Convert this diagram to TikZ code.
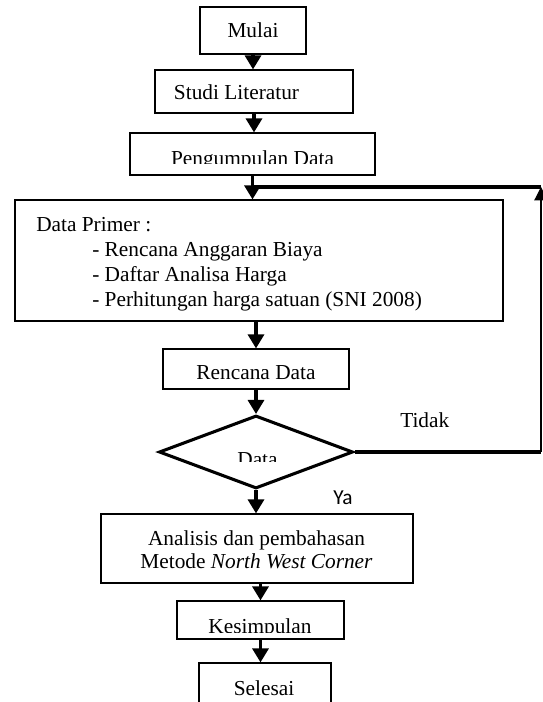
\documentclass[tikz,border=0pt]{standalone}
\usepackage{fontspec}
\setmainfont{Liberation Serif}
\newfontfamily\yafont{Carlito}
\usetikzlibrary{arrows.meta,shapes.geometric}

\begin{document}
\begin{tikzpicture}[x=0.75pt,y=-0.75pt,
  font=\fontsize{16}{18.75}\selectfont,
  kotak/.style={draw,line width=0.9pt,inner sep=0pt},
  teks/.style={inner sep=0pt,anchor=base},
  panah/.style={line width=2.4pt,-{Triangle[length=10.5pt,width=12pt]}},
  tebal/.style={line width=2.4pt}]
\useasboundingbox (0,0) rectangle (542,702);

% kotak
\node[kotak,minimum width=79.5pt,minimum height=35.25pt] (mulai) at (253,30.5) {};
\node[kotak,minimum width=148.5pt,minimum height=32.25pt] (studi) at (254,91.5) {};
\node[kotak,minimum width=183.75pt,minimum height=31.5pt] (kumpul) at (252.5,154) {};
\node[kotak,minimum width=366pt,minimum height=90.75pt] (primer) at (259,260.5) {};
\node[kotak,minimum width=139.5pt,minimum height=30pt] (rencana) at (256,369) {};
\node[kotak,diamond,line width=2.3pt,minimum width=145.5pt,minimum height=54.75pt] (cek) at (256,452) {};
\node[kotak,minimum width=234pt,minimum height=51.75pt] (analisis) at (257,548.5) {};
\node[kotak,minimum width=125.25pt,minimum height=28.5pt] (simpul) at (260.5,620) {};
\node[kotak,minimum width=99pt,minimum height=39pt] (selesai) at (265,689) {};

% teks
\node[teks] (tmulai) at (253,38) {Mulai};
\node[teks] (tstudi) at (236.5,100) {Studi Literatur};
\begin{scope}
\clip (0,0) rectangle (542,164);
\node[teks] (tkumpul) at (252.5,166) {Pengumpulan Data};
\end{scope}
\node[teks,anchor=base west] (tprimer) at (36,231) {Data Primer :};
\foreach \baris [count=\i] in {Rencana Anggaran Biaya, Daftar Analisa Harga, Perhitungan harga satuan (SNI 2008)}
  \node[teks,anchor=base west] (item\i) at (92,231+25*\i) {- \baris};
\node[teks] (trencana) at (256,379) {Rencana Data};
\begin{scope}
\clip (0,0) rectangle (542,461);
\node[teks] (tcek) at (257.5,466) {Data};
\end{scope}
\node[teks,anchor=base west] (tidak) at (400,427) {Tidak};
\node[teks,anchor=base west,font=\fontsize{16}{18}\yafont] (ya) at (333,504) {Ya};
\node[teks] (tanalisis) at (256.5,545) {Analisis dan pembahasan};
\node[teks] (tmetode) at (256.5,568) {Metode \textit{North West Corner}};
\begin{scope}
\clip (0,0) rectangle (542,632);
\node[teks] (tsimpul) at (260,633) {Kesimpulan};
\end{scope}
\node[teks] (tselesai) at (264,695) {Selesai};

% panah
\draw[panah] (mulai.south) -- (mulai.south |- studi.north);
\draw[panah] (studi.south) -- (studi.south |- kumpul.north);
\draw[panah] (kumpul.south) -- (kumpul.south |- primer.north);
\draw[panah] (primer.south -| rencana.north) -- (rencana.north);
\draw[panah] (rencana.south) -- (cek.north);
\draw[panah] (cek.south) -- (cek.south |- analisis.north);
\draw[panah] (analisis.south -| simpul.north) -- (simpul.north);
\draw[panah] (simpul.south) -- (simpul.south |- selesai.north);

% balik ke pengumpulan data
\coordinate (kanan) at (541,187);
\draw[tebal] (cek.east) -- (cek.east -| kanan);
\draw[line width=0.9pt,-{Triangle[length=10pt,width=10pt]}] (cek.east -| kanan) -- (kanan);
\draw[tebal] (kanan) -- (kumpul.south |- kanan);
\end{tikzpicture}
\end{document}
